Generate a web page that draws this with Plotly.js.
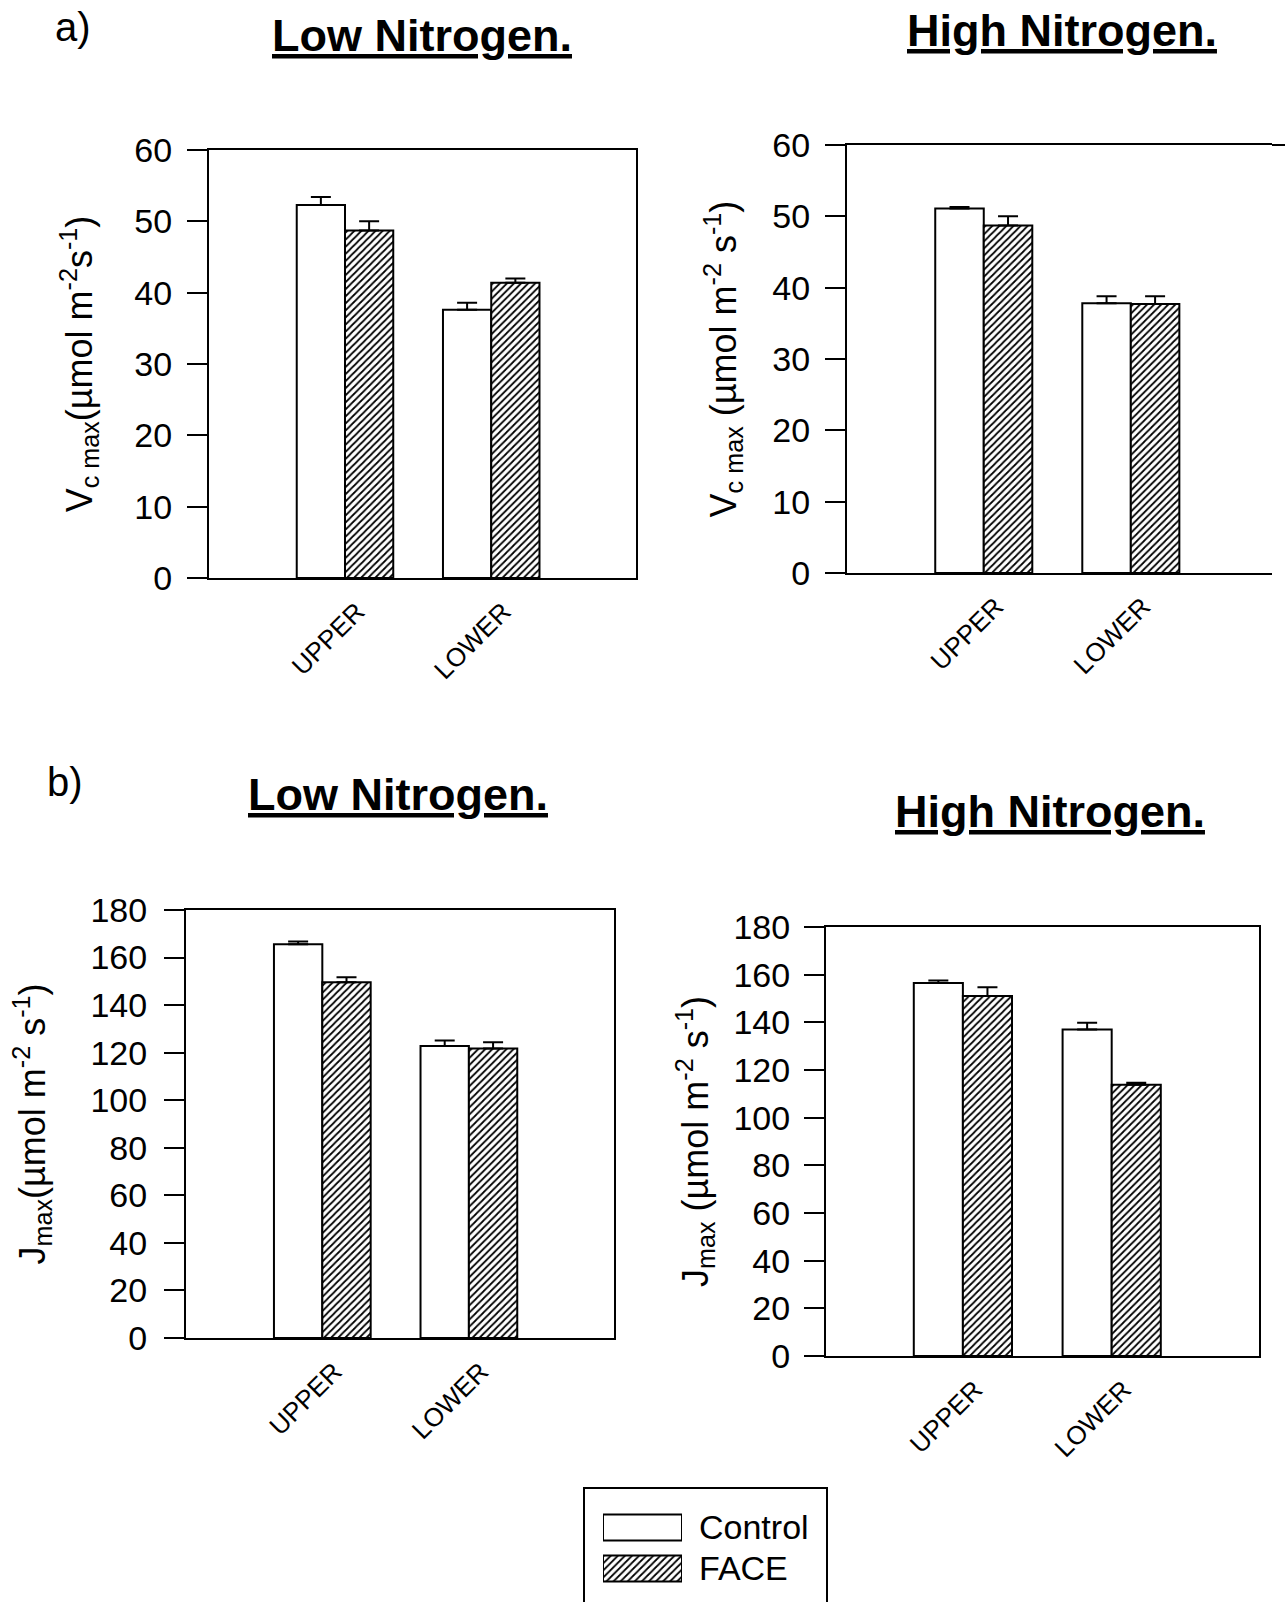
<!DOCTYPE html>
<html>
<head>
<meta charset="utf-8">
<script src="https://cdn.plot.ly/plotly-3.0.1.min.js"></script>
<style>html,body{margin:0;padding:0;background:#fff;}#chart{width:1285px;height:1602px;}</style>
</head>
<body>
<div id="chart"></div>
<script>
// ---- data ----
var categories = ['UPPER', 'LOWER'];
var seriesNames = ['Control', 'FACE'];

// a) Vcmax, Low Nitrogen
var vcmaxLowControl = [52.3, 37.6];
var vcmaxLowControlErr = [1.1, 1.0];
var vcmaxLowFace = [48.7, 41.4];
var vcmaxLowFaceErr = [1.3, 0.6];
// a) Vcmax, High Nitrogen
var vcmaxHighControl = [51.1, 37.8];
var vcmaxHighControlErr = [0.2, 1.0];
var vcmaxHighFace = [48.7, 37.7];
var vcmaxHighFaceErr = [1.3, 1.1];
// b) Jmax, Low Nitrogen
var jmaxLowControl = [165.6, 122.8];
var jmaxLowControlErr = [1.2, 2.3];
var jmaxLowFace = [149.6, 121.8];
var jmaxLowFaceErr = [2.1, 2.6];
// b) Jmax, High Nitrogen
var jmaxHighControl = [156.5, 137.0];
var jmaxHighControlErr = [1.1, 2.8];
var jmaxHighFace = [151.0, 113.8];
var jmaxHighFaceErr = [3.7, 0.8];

var vcmaxTicks = [0, 10, 20, 30, 40, 50, 60];
var jmaxTicks = [0, 20, 40, 60, 80, 100, 120, 140, 160, 180];

var panelTitles = ['Low Nitrogen.', 'High Nitrogen.', 'Low Nitrogen.', 'High Nitrogen.'];
var panelLetters = ['a)', 'b)'];
var vcmaxTitleLow = 'V<sub>c max</sub>(µmol m<sup>-2</sup>s<sup>-1</sup>)';
var vcmaxTitleHigh = 'V<sub>c max</sub> (µmol m<sup>-2</sup> s<sup>-1</sup>)';
var jmaxTitleLow = 'J<sub>max</sub>(µmol m<sup>-2</sup> s<sup>-1</sup>)';
var jmaxTitleHigh = 'J<sub>max</sub> (µmol m<sup>-2</sup> s<sup>-1</sup>)';

// ---- styling ----
var FONT = 'Arial, "Liberation Sans", Helvetica, sans-serif';
var W = 1285, H = 1602;
function px(x) { return x / W; }
function py(y) { return 1 - y / H; }

var hatch = {shape: '/', fgcolor: 'black', bgcolor: 'white', size: 5, solidity: 0.35};

function controlTrace(vals, errs, xa, ya) {
  return {
    type: 'bar', x: categories, y: vals, name: seriesNames[0], xaxis: xa, yaxis: ya,
    marker: {color: 'white', line: {color: 'black', width: 2}},
    error_y: {type: 'data', symmetric: false, array: errs, arrayminus: [0, 0], color: 'black', thickness: 2, width: 10},
    showlegend: false, hoverinfo: 'skip'
  };
}
function faceTrace(vals, errs, xa, ya) {
  return {
    type: 'bar', x: categories, y: vals, name: seriesNames[1], xaxis: xa, yaxis: ya,
    marker: {color: 'white', line: {color: 'black', width: 2}, pattern: hatch},
    error_y: {type: 'data', symmetric: false, array: errs, arrayminus: [0, 0], color: 'black', thickness: 2, width: 10},
    showlegend: false, hoverinfo: 'skip'
  };
}

var data = [
  controlTrace(vcmaxLowControl, vcmaxLowControlErr, 'x', 'y'),
  faceTrace(vcmaxLowFace, vcmaxLowFaceErr, 'x', 'y'),
  controlTrace(vcmaxHighControl, vcmaxHighControlErr, 'x2', 'y2'),
  faceTrace(vcmaxHighFace, vcmaxHighFaceErr, 'x2', 'y2'),
  controlTrace(jmaxLowControl, jmaxLowControlErr, 'x3', 'y3'),
  faceTrace(jmaxLowFace, jmaxLowFaceErr, 'x3', 'y3'),
  controlTrace(jmaxHighControl, jmaxHighControlErr, 'x4', 'y4'),
  faceTrace(jmaxHighFace, jmaxHighFaceErr, 'x4', 'y4'),
  // legend swatches (key)
  {
    type: 'bar', orientation: 'h', y: [seriesNames[0]], x: [1], xaxis: 'x5', yaxis: 'y5',
    width: 0.64, offsetgroup: 'key', name: seriesNames[0],
    marker: {color: 'white', line: {color: 'black', width: 2}},
    showlegend: false, hoverinfo: 'skip'
  },
  {
    type: 'bar', orientation: 'h', y: [seriesNames[1]], x: [1], xaxis: 'x5', yaxis: 'y5',
    width: 0.64, offsetgroup: 'key', name: seriesNames[1],
    marker: {color: 'white', line: {color: 'black', width: 2}, pattern: hatch},
    showlegend: false, hoverinfo: 'skip'
  }
];

function xAxis(domain, range, anchor) {
  return {
    domain: domain, range: range, anchor: anchor, type: 'category',
    showline: true, linecolor: 'black', linewidth: 2, mirror: true,
    ticks: '', tickangle: -45, showgrid: false, zeroline: false,
    tickfont: {family: FONT, size: 26, color: 'black'},
    ticklabelstandoff: 6, ticklabelshift: 12
  };
}
function yAxis(domain, range, ticks, anchor, title, standoff, mirror, lblStandoff) {
  return {
    domain: domain, range: range, anchor: anchor,
    tickvals: ticks, ticktext: ticks.map(String),
    showline: true, linecolor: 'black', linewidth: 2, mirror: mirror,
    ticks: 'outside', ticklen: 20, tickwidth: 2, tickcolor: 'black',
    showgrid: false, zeroline: false,
    tickfont: {family: FONT, size: 34, color: 'black'},
    ticklabelstandoff: lblStandoff,
    title: {text: title, font: {family: FONT, size: 36, color: 'black'}, standoff: standoff}
  };
}

var layout = {
  width: W, height: H,
  margin: {l: 0, r: 0, t: 0, b: 0},
  paper_bgcolor: 'white', plot_bgcolor: 'white',
  barmode: 'group', bargap: 0.34, bargroupgap: 0,
  showlegend: false,
  xaxis: xAxis([px(209), px(636)], [-0.93, 1.99], 'y'),
  yaxis: yAxis([py(578), py(150)], [0, 60], vcmaxTicks, 'x', vcmaxTitleLow, 31, true, 8),
  xaxis2: xAxis([px(847), px(1272)], [-0.93, 1.96], 'y2'),
  yaxis2: yAxis([py(573), py(145)], [0, 60], vcmaxTicks, 'x2', vcmaxTitleHigh, 25, false, 8),
  xaxis3: xAxis([px(186), px(614)], [-0.93, 1.99], 'y3'),
  yaxis3: yAxis([py(1338), py(910)], [0, 180], jmaxTicks, 'x3', jmaxTitleLow, 34, true, 10),
  xaxis4: xAxis([px(826), px(1259)], [-0.92, 1.99], 'y4'),
  yaxis4: yAxis([py(1356), py(927)], [0, 180], jmaxTicks, 'x4', jmaxTitleHigh, 14, true, 7),
  xaxis5: {domain: [px(603), px(682)], range: [0, 1], anchor: 'y5', visible: false, fixedrange: true},
  yaxis5: {domain: [py(1589), py(1507)], anchor: 'x5', type: 'category', autorange: 'reversed',
    side: 'right', showline: false, ticks: '', showgrid: false, zeroline: false,
    tickfont: {family: FONT, size: 34, color: 'black'}, ticklabelstandoff: 16},
  shapes: [
    // legend box
    {type: 'rect', xref: 'paper', yref: 'paper', x0: px(584), x1: px(827), y0: py(1610), y1: py(1488),
      line: {color: 'black', width: 2}, fillcolor: 'rgba(0,0,0,0)', layer: 'below'},
    // top frame of upper-right panel continues to the page edge
    {type: 'line', xref: 'paper', yref: 'paper', x0: px(1272), x1: 1, y0: py(145), y1: py(145),
      line: {color: 'black', width: 2}}
  ],
  annotations: []
};

var titlePos = [[422, 35], [1062, 30], [398, 794], [1050, 811]];
panelTitles.forEach(function (t, i) {
  layout.annotations.push({
    xref: 'paper', yref: 'paper', x: px(titlePos[i][0]), y: py(titlePos[i][1]),
    xanchor: 'center', yanchor: 'middle', showarrow: false,
    text: '<b>' + t + '</b>',
    font: {family: FONT, size: 45, color: 'black', lineposition: 'under'}
  });
});
var letterPos = [[73, 27], [65, 782]];
panelLetters.forEach(function (t, i) {
  layout.annotations.push({
    xref: 'paper', yref: 'paper', x: px(letterPos[i][0]), y: py(letterPos[i][1]),
    xanchor: 'center', yanchor: 'middle', showarrow: false, text: t,
    font: {family: FONT, size: 40, color: 'black'}
  });
});

Plotly.newPlot('chart', data, layout, {staticPlot: true, displayModeBar: false});
</script>
</body>
</html>
